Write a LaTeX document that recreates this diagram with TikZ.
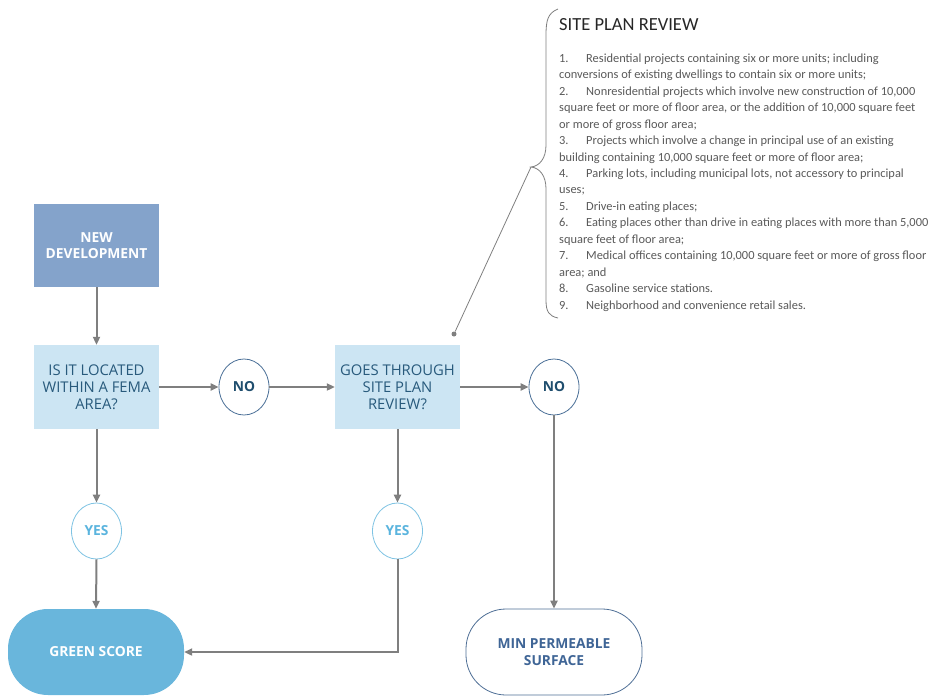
\documentclass[tikz,border=0pt]{standalone}
\usepackage{fontspec}
\setmainfont{Open Sans}
\newfontfamily\listfont{Carlito}
\usetikzlibrary{arrows.meta,shapes.geometric}
\definecolor{ndfill}{HTML}{84A3CB}
\definecolor{decfill}{HTML}{CCE5F3}
\definecolor{dectext}{HTML}{285A7C}
\definecolor{nobord}{HTML}{4A6F97}
\definecolor{notext}{HTML}{1F4E6E}
\definecolor{yesbord}{HTML}{7EC3E3}
\definecolor{yestext}{HTML}{5AB4DE}
\definecolor{gsfill}{HTML}{69B6DC}
\definecolor{mpbord}{HTML}{4F6F96}
\definecolor{mptext}{HTML}{3F6596}
\definecolor{arrcol}{HTML}{7F7F7F}
\definecolor{listcol}{HTML}{595959}
\definecolor{titlecol}{HTML}{262626}
\newcommand{\itm}[1]{\makebox[27pt][l]{#1}}
\begin{document}
\begin{tikzpicture}[x=1pt,y=-1pt,
  boldlabel/.style={font=\bfseries\fontsize{13.8}{16.5}\selectfont},
  newbox/.style={boldlabel,draw=none,fill=ndfill,minimum width=125pt,minimum height=83pt,align=center,text=white},
  decbox/.style={draw=none,fill=decfill,minimum width=125pt,minimum height=84pt,align=center,text=dectext,font=\fontsize{14.8}{16.8}\selectfont},
  nocirc/.style={boldlabel,ellipse,draw=nobord,line width=0.8pt,fill=white,minimum width=50pt,minimum height=56pt,inner sep=0pt,text=notext},
  yescirc/.style={boldlabel,ellipse,draw=yesbord,line width=0.8pt,fill=white,minimum width=50pt,minimum height=56pt,inner sep=0pt,text=yestext},
  gsbox/.style={boldlabel,draw=none,fill=gsfill,rounded corners=40pt,minimum width=176pt,minimum height=86pt,align=center,text=white},
  mpbox/.style={boldlabel,draw=mpbord,line width=0.8pt,fill=white,rounded corners=40pt,minimum width=176pt,minimum height=86pt,align=center,text=mptext},
  arr/.style={draw=arrcol,line width=2pt,-{Triangle[length=8pt,width=7pt]}},
  bracel/.style={draw=arrcol,line width=0.8pt}
]
\useasboundingbox (0,0) rectangle (933,696);

\node[newbox] (nd) at (96.5,245.5) {NEW\\DEVELOPMENT};
\node[decbox] (fema) at (96.5,387) {IS IT LOCATED\\WITHIN A FEMA\\AREA?};
\node[decbox] (spr) at (397.5,387) {GOES THROUGH\\SITE PLAN\\REVIEW?};
\node[nocirc] (no1) at (244,387) {NO};
\node[nocirc] (no2) at (554,387) {NO};
\node[yescirc] (yes1) at (96.5,531) {YES};
\node[yescirc] (yes2) at (397.5,531) {YES};
\node[gsbox] (gs) at (96,652) {GREEN SCORE};
\node[mpbox] (mp) at (554,652) {MIN PERMEABLE\\SURFACE};

\draw[arr] (nd.south) -- (fema.north);
\draw[arr] (fema.east) -- (no1.west);
\draw[arr] (no1.east) -- (spr.west);
\draw[arr] (spr.east) -- (no2.west);
\draw[arr] (no2.south) -- (mp.north);
\draw[arr] (fema.south) -- (yes1.north);
\draw[arr] (yes1.south) -- (gs.north);
\draw[arr] (spr.south) -- (yes2.north);
\draw[arr] (yes2.south) |- (gs.east);

% brace
\coordinate (btop) at (558,9);
\coordinate (btip) at (531,167);
\coordinate (bbot) at (558,318);
\draw[bracel] (btop) .. controls (548,13) and (546,20) .. (546,35)
  -- (546,145) .. controls (546,158) and (540,166) .. (btip)
  .. controls (540,168) and (546,176) .. (546,189)
  -- (546,300) .. controls (546,312) and (549,316) .. (bbot);
\node[circle,fill=arrcol,inner sep=0pt,minimum size=5pt] (dot) at (454,334) {};
\draw[bracel] (btip) -- (dot);

\node[anchor=west,text=titlecol,font=\listfont\fontsize{18.5}{22}\selectfont,inner sep=0pt] (title) at (559,25) {SITE PLAN REVIEW};
\node[anchor=north west,text=listcol,align=left,inner sep=0pt,font=\listfont\fontsize{12.4}{16.45}\selectfont] (list) at (559,53.5) {%
\itm{1.}Residential projects containing six or more units; including\\
conversions of existing dwellings to contain six or more units;\\
\itm{2.}Nonresidential projects which involve new construction of 10,000\\
square feet or more of floor area, or the addition of 10,000 square feet\\
or more of gross floor area;\\
\itm{3.}Projects which involve a change in principal use of an existing\\
building containing 10,000 square feet or more of floor area;\\
\itm{4.}Parking lots, including municipal lots, not accessory to principal\\
uses;\\
\itm{5.}Drive-in eating places;\\
\itm{6.}Eating places other than drive in eating places with more than 5,000\\
square feet of floor area;\\
\itm{7.}Medical offices containing 10,000 square feet or more of gross floor\\
area; and\\
\itm{8.}Gasoline service stations.\\
\itm{9.}Neighborhood and convenience retail sales.};
\end{tikzpicture}
\end{document}
